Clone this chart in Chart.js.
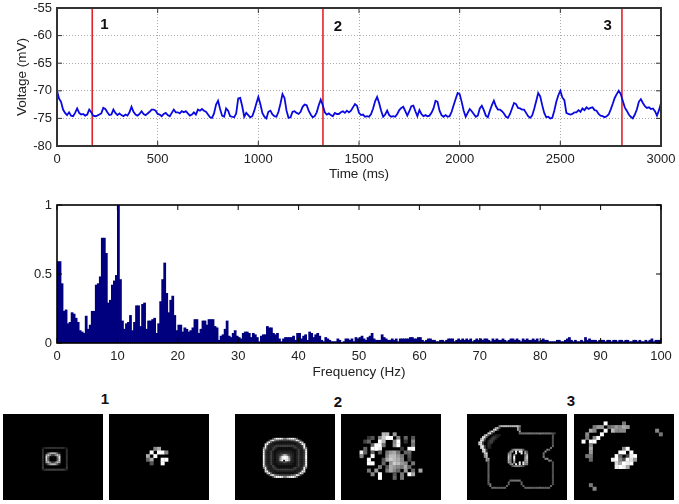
<!DOCTYPE html>
<html>
<head>
<meta charset="utf-8">
<title>Voltage trace, spectrum and image panels</title>
<script src="https://cdn.jsdelivr.net/npm/chart.js@4/dist/chart.umd.min.js"></script>
<style>
	html, body { margin: 0; background: #fff; }
	body { position: relative; width: 679px; height: 504px; overflow: hidden; }
	canvas { position: absolute; }
	.panel { background: #000; filter: blur(0.4px); }
	.num { position: absolute; font: bold 15px "Liberation Sans", Arial, sans-serif; color: #111; transform: translateX(-50%); }
</style>
</head>
<body>
<canvas id="trace" width="679" height="190" style="left:0;top:0"></canvas>
<canvas id="spectrum" width="679" height="190" style="left:0;top:190px"></canvas>

<div class="num" style="left:105px;top:390px">1</div>
<div class="num" style="left:338px;top:393px">2</div>
<div class="num" style="left:571px;top:392px">3</div>

<canvas id="p1a" class="panel" width="100" height="86" style="left:3px;top:414px"></canvas>
<canvas id="p1b" class="panel" width="100" height="86" style="left:109px;top:414px"></canvas>
<canvas id="p2a" class="panel" width="100" height="86" style="left:235px;top:414px"></canvas>
<canvas id="p2b" class="panel" width="100" height="86" style="left:341px;top:414px"></canvas>
<canvas id="p3a" class="panel" width="100" height="86" style="left:467px;top:414px"></canvas>
<canvas id="p3b" class="panel" width="100" height="86" style="left:574px;top:414px"></canvas>

<script>
// voltage trace, one value every 10 ms (mV)
const TRACE_STEP_MS = 10;
const traceMv = [
	-70.0,-71.4,-72.0,-73.4,-74.0,-74.4,-73.9,-74.5,-74.6,-74.0,
	-73.2,-74.0,-74.3,-74.2,-74.5,-74.3,-73.4,-73.9,-74.5,-74.6,
	-74.5,-74.3,-74.1,-73.1,-73.3,-73.9,-74.4,-74.3,-73.4,-74.0,
	-74.4,-74.1,-74.4,-74.6,-74.3,-74.5,-73.9,-72.9,-73.8,-74.3,
	-74.5,-74.2,-73.7,-74.2,-74.4,-74.1,-73.8,-73.4,-73.4,-73.6,
	-74.2,-74.3,-74.6,-74.2,-74.0,-74.4,-74.6,-74.0,-73.4,-73.9,
	-73.9,-74.1,-73.7,-73.9,-73.7,-74.1,-74.5,-74.3,-73.9,-74.3,
	-73.4,-73.6,-73.3,-73.6,-73.8,-74.3,-74.8,-74.9,-74.1,-72.5,
	-71.8,-73.3,-74.5,-74.7,-73.2,-73.6,-74.6,-74.7,-74.8,-74.1,
	-71.4,-71.3,-72.8,-74.7,-74.0,-74.4,-74.8,-74.6,-73.6,-72.3,
	-71.1,-72.4,-74.0,-74.7,-75.0,-73.8,-73.6,-74.3,-74.6,-74.7,
	-73.8,-72.3,-70.6,-71.3,-73.6,-74.9,-74.8,-73.8,-73.7,-74.0,
	-74.2,-73.8,-72.9,-72.5,-72.6,-73.6,-74.3,-74.8,-74.6,-73.9,
	-72.6,-71.6,-72.6,-73.9,-74.3,-74.1,-74.4,-74.6,-74.0,-74.2,
	-74.2,-73.9,-73.7,-74.0,-73.6,-73.9,-73.6,-73.0,-72.4,-72.7,
	-74.0,-74.4,-74.3,-74.7,-74.6,-74.7,-74.2,-73.2,-71.9,-71.1,
	-72.2,-73.6,-74.7,-74.3,-73.6,-74.4,-74.7,-74.6,-74.7,-74.2,
	-73.5,-73.1,-72.9,-73.7,-74.5,-73.7,-72.8,-72.7,-73.7,-74.6,
	-73.5,-74.2,-74.6,-74.4,-74.6,-74.5,-74.0,-73.2,-71.8,-72.0,
	-73.6,-74.4,-74.7,-74.4,-74.7,-74.6,-73.8,-72.6,-71.5,-70.4,
	-70.6,-72.0,-73.6,-74.7,-74.0,-73.3,-73.7,-74.2,-74.7,-74.5,
	-73.2,-72.7,-73.5,-74.5,-74.8,-73.6,-72.6,-71.8,-72.8,-73.4,
	-73.4,-73.7,-74.1,-74.7,-74.9,-74.2,-73.2,-72.2,-72.4,-73.1,
	-73.2,-73.4,-73.4,-74.0,-74.6,-74.9,-74.5,-73.3,-71.9,-70.4,
	-71.0,-72.6,-74.0,-74.8,-74.7,-75.0,-74.9,-73.6,-72.0,-70.8,
	-70.0,-71.2,-71.7,-74.0,-74.2,-74.3,-74.2,-73.9,-73.9,-73.5,
	-73.8,-73.2,-73.5,-73.0,-73.3,-73.1,-73.0,-73.5,-73.6,-74.2,
	-74.5,-74.6,-74.8,-74.6,-74.3,-73.4,-72.4,-71.3,-70.6,-70.0,
	-70.6,-71.8,-73.0,-73.6,-74.3,-74.7,-75.0,-74.3,-73.4,-72.0,
	-71.5,-72.2,-72.8,-73.1,-73.0,-73.3,-73.2,-73.7,-74.5,-73.5,
	-72.2
];

// red markers and their numbers
const markerTimes = [175, 1321, 2806];
const markerNames = ['1', '2', '3'];
const markerNameTimes = [235, 1395, 2735];
const markerNameMv = [-58, -58.4, -58.2];

const traceTicksX = [0, 500, 1000, 1500, 2000, 2500, 3000];
const traceTicksY = [-80, -75, -70, -65, -60, -55];

// amplitude spectrum, one bin every 1/3 Hz
const BINS_PER_HZ = 3;
const spectrumAmp = [
	.59,.59,.43,.23,.24,.14,.15,.22,.21,.18,
	.15,.09,.08,.07,.195,.10,.13,.23,.23,.42,
	.43,.48,.76,.76,.65,.29,.31,.42,.45,.49,
	1.0,.46,.16,.10,.14,.15,.20,.09,.15,.27,
	.27,.12,.28,.29,.10,.16,.16,.17,.18,.07,
	.14,.30,.46,.58,.36,.22,.31,.34,.20,.09,
	.13,.13,.08,.11,.10,.08,.09,.11,.17,.17,
	.07,.10,.16,.16,.13,.17,.17,.17,.12,.11,
	.02,.05,.06,.10,.16,.05,.04,.07,.09,.05,
	.04,.03,.07,.08,.08,.07,.04,.07,.06,.04,
	.01,.05,.06,.06,.12,.11,.11,.07,.06,.07,
	.03,.01,.03,.04,.04,.04,.04,.05,.02,.07,
	.07,.03,.05,.06,.02,.08,.07,.04,.06,.07,
	.05,.02,.01,.04,.03,.02,.01,.01,.01,.03,
	.02,.00,.01,.03,.03,.02,.03,.01,.04,.03,
	.04,.05,.03,.02,.04,.05,.07,.03,.02,.02,
	.02,.06,.04,.03,.02,.02,.03,.02,.03,.01,
	.03,.03,.03,.03,.03,.04,.04,.03,.03,.04,
	.04,.02,.01,.02,.03,.03,.02,.02,.01,.01,
	.02,.02,.01,.02,.03,.03,.03,.01,.02,.03,
	.02,.03,.02,.03,.02,.03,.01,.02,.03,.02,
	.03,.02,.03,.03,.02,.01,.03,.02,.03,.02,
	.02,.03,.02,.01,.02,.03,.03,.02,.03,.02,
	.01,.03,.02,.03,.02,.02,.03,.02,.03,.01,
	.02,.03,.02,.02,.01,.01,.01,.01,.02,.02,
	.01,.01,.02,.03,.04,.02,.01,.02,.01,.01,
	.02,.01,.04,.02,.03,.02,.02,.02,.01,.02,
	.02,.02,.01,.02,.02,.01,.02,.02,.01,.02,
	.02,.01,.02,.02,.01,.01,.02,.02,.01,.02,
	.01,.01,.02,.01,.02,.03,.01,.02,.02,.02
];
const spectrumTicksX = [0, 10, 20, 30, 40, 50, 60, 70, 80, 90, 100];
const spectrumTicksY = [0, 0.5, 1];

// image panels: [row, first column, hex grey levels ('.' = black)]
const PANEL_COARSE = { cols: 25, rows: 21.5, cell: 4 };
const PANEL_FINE = { cols: 50, rows: 43, cell: 2 };

const panel1Left = [
	[16,19,'12333333333321'],[17,19,'3............3'],[18,19,'3............3'],
	[19,19,'3.26abba62...3'],[20,19,'3.ac8448ca...3'],[21,19,'3.d7....7d...3'],
	[22,19,'3.d5....5d...3'],[23,19,'3.d7....7d...3'],[24,19,'3.ac8448ca...3'],
	[25,19,'3.26abba62...3'],[26,19,'3............3'],[27,19,'4............4'],
	[28,19,'23444444444432']
];
const panel1Right = [
	[8,11,'8a'],[9,10,'f.ff8'],[10,9,'a.f'],[11,9,'6a..ff'],[12,10,'5..f']
];
const panel2Left = [
	[11,13,'.....4afffd88ceffb5.....'],
	[12,13,'...4ce866444444668ec4...'],
	[13,13,'..bf6221111111111226fb..'],
	[14,13,'.df422122222222221224fd.'],
	[15,13,'.f42223444444444432224f.'],
	[16,13,'7e32234211111111243223e7'],
	[17,13,'d6322421111111111124226d'],
	[18,13,'f4224211222222221124224f'],
	[19,13,'f4224212233333322124224f'],
	[20,13,'f4224212347bb7432124224f'],
	[21,13,'f422421237effe732124224f'],
	[22,13,'f42242123aeffea32124224f'],
	[23,13,'f42242123af.ffa32124224f'],
	[24,13,'f4224212233553322124224f'],
	[25,13,'f4224211222222221124224f'],
	[26,13,'d6322421111111111124226d'],
	[27,13,'7e32234211111111243223e7'],
	[28,13,'.f42223444444444432224f.'],
	[29,13,'.df422122222222221224fd.'],
	[30,13,'..bf6221111111111226fb..'],
	[31,13,'...4ce866444444668ec4...'],
	[32,13,'.....4afffd88ceffb5.....']
];
const panel2Right = [
	[4,9,'.bb.9'],
	[5,6,'35.8cff.8.6.5'],
	[6,5,'46..fb..8f.3.8'],
	[7,6,'.6ff7..9f...7'],
	[8,5,'6.ffe.....3.ff'],
	[9,4,'e6.6.5.79a7.66'],
	[10,4,'8..f...8bb97.5'],
	[11,5,'.f...5acba8.4'],
	[12,6,'ff..6.9cb98.7'],
	[13,6,'...7.5a987a6'],
	[14,6,'7.9..7a86.9.6.a'],
	[15,6,'.8.f...5.7.fa'],
	[16,9,'f...6.7']
];
const panel3Left = [
	[4,15,'8bbbbbbbbbb8'],[5,13,'9c5'],[5,25,'a5'],[6,12,'cd5'],[6,25,'a5'],[7,10,'8e8'],[7,26,'a'],
	[8,9,'de4'],[8,26,'67777777777777777654'],[9,7,'9e6'],[10,6,'ce5'],[11,5,'9e7'],[12,5,'ed3'],
	[13,4,'de4'],[14,4,'ce5'],[15,5,'de4'],[16,5,'ce4'],[17,6,'de3'],[18,6,'ce3'],[19,7,'cd'],
	[20,7,'9c'],[21,7,'8b'],[22,8,'9a'],[23,8,'a8'],
	[9,12,'1222'],[10,11,'2332'],[11,10,'2442'],[12,9,'2442'],[13,9,'344'],[14,9,'33'],[15,9,'32'],[16,9,'22'],
	[9,44,'5'],[10,44,'5'],[11,44,'5'],[12,44,'5'],[13,44,'5'],[14,44,'5'],[15,44,'6'],[16,43,'7'],
	[17,41,'86'],[18,40,'9'],[19,39,'7'],[20,39,'6'],[21,39,'7'],[22,40,'89'],[23,42,'86'],
	[24,9,'6'],[25,9,'6'],[26,9,'6'],[27,9,'6'],[28,9,'6'],[29,9,'6'],[30,9,'6'],[31,9,'6'],
	[32,9,'6'],[33,9,'6'],[34,9,'6'],[35,9,'6'],[36,9,'57'],[37,10,'7'],[38,11,'66666666'],
	[37,19,'6'],[36,20,'6'],[35,20,'6'],[34,21,'777777'],[35,27,'6'],[36,27,'6'],[37,28,'6'],
	[38,29,'66666666666666'],[37,43,'6'],[36,44,'5'],
	[24,44,'5'],[25,44,'5'],[26,44,'5'],[27,44,'5'],[28,44,'5'],[29,44,'5'],[30,44,'5'],[31,44,'5'],
	[32,44,'5'],[33,44,'5'],[34,44,'5'],[35,44,'5'],
	[17,22,'69aa9a6'],[18,21,'8a.f.ff.95'],[19,20,'79..e..f.b7'],[20,20,'b9.a.....7b'],
	[21,20,'c8.f.....8c'],[22,20,'c8.f.....9c'],[23,20,'b7.c.....ab'],[24,20,'a9.a..f.f8a'],
	[25,21,'8a.f.f.f98'],[26,22,'5788875']
];
const panel3Right = [
	[1,7,'f'],[1,12,'7'],[2,4,'7'],[2,5,'99'],[2,8,'6798a9'],[3,3,'a8'],[3,7,'f'],[3,9,'b888'],[3,21,'8'],
	[4,2,'8'],[4,6,'f'],[4,22,'7'],[5,2,'7'],[5,4,'8f'],[6,1,'f'],[6,3,'ff'],
	[7,3,'8'],[8,3,'a'],[9,3,'9'],[10,2,'77'],[11,3,'6'],
	[18,3,'7'],[19,4,'8'],
	[8,12,'8f'],[9,11,'ff.f'],[10,10,'f6.4ef'],[11,9,'ef85fd9'],[12,10,'dafef'],[13,10,'efea']
];

const panels = [
	['p1a', panel1Left, PANEL_FINE],
	['p1b', panel1Right, PANEL_COARSE],
	['p2a', panel2Left, PANEL_FINE],
	['p2b', panel2Right, PANEL_COARSE],
	['p3a', panel3Left, PANEL_FINE],
	['p3b', panel3Right, PANEL_COARSE]
];

const FONT_FAMILY = '"Liberation Sans", Arial, sans-serif';
Chart.defaults.font.family = FONT_FAMILY;
Chart.defaults.font.size = 13;
Chart.defaults.color = '#222';
Chart.defaults.animation = false;
Chart.defaults.events = [];

// frame round the plot and short inward ticks on all four sides
const frameTicks = {
	id: 'frameTicks',
	afterDraw(chart, _args, opts) {
		const { ctx, chartArea: a, scales } = chart;
		ctx.save();
		ctx.strokeStyle = opts.color;
		ctx.lineWidth = 1;
		ctx.beginPath();
		scales.x.ticks.forEach((t) => {
			const px = scales.x.getPixelForValue(t.value);
			ctx.moveTo(px, a.top);
			ctx.lineTo(px, a.top + 5);
			ctx.moveTo(px, a.bottom);
			ctx.lineTo(px, a.bottom - 5);
		});
		scales.y.ticks.forEach((t) => {
			const py = scales.y.getPixelForValue(t.value);
			ctx.moveTo(a.left, py);
			ctx.lineTo(a.left + 5, py);
			ctx.moveTo(a.right, py);
			ctx.lineTo(a.right - 5, py);
		});
		ctx.stroke();
		ctx.lineWidth = opts.width;
		ctx.strokeRect(a.left, a.top, a.right - a.left, a.bottom - a.top);
		ctx.restore();
	}
};

// the bold 1 / 2 / 3 beside the red markers
const markerText = {
	id: 'markerText',
	afterDatasetsDraw(chart) {
		const { ctx, scales } = chart;
		ctx.save();
		ctx.font = 'bold 15px ' + FONT_FAMILY;
		ctx.fillStyle = '#111';
		ctx.textAlign = 'center';
		ctx.textBaseline = 'middle';
		markerNames.forEach((name, i) => {
			ctx.fillText(name, scales.x.getPixelForValue(markerNameTimes[i]), scales.y.getPixelForValue(markerNameMv[i]));
		});
		ctx.restore();
	}
};

const fixedTicks = (values) => (scale) => {
	scale.ticks = values.map((value) => ({ value }));
};

const axisX = (min, max, ticks, title, height) => ({
	type: 'linear',
	min,
	max,
	offset: false,
	grid: { display: false, offset: false, drawTicks: false },
	border: { display: false },
	afterBuildTicks: fixedTicks(ticks),
	afterFit(scale) {
		scale.height = height;
		scale.paddingLeft = 0;
		scale.paddingRight = 0;
	},
	ticks: { maxRotation: 0, autoSkip: false, padding: 6, color: '#222', callback: (v) => String(v) },
	title: { display: true, text: title, font: { size: 13.5 }, padding: { top: 1, bottom: 0 }, color: '#222' }
});

const axisY = (min, max, ticks, width) => ({
	type: 'linear',
	min,
	max,
	grid: { display: false, drawTicks: false },
	border: { display: false },
	afterBuildTicks: fixedTicks(ticks),
	afterFit(scale) {
		scale.width = width;
		scale.paddingTop = 0;
		scale.paddingBottom = 0;
	},
	ticks: { autoSkip: false, padding: 5, color: '#222', callback: (v) => String(v) }
});

// voltage trace
const traceY = axisY(-80, -55, traceTicksY, 43);
traceY.title = { display: true, text: 'Voltage (mV)', font: { size: 13.5 }, padding: { top: 0, bottom: 2 }, color: '#222' };
const traceX = axisX(0, 3000, traceTicksX, 'Time (ms)', 36);
const dottedGrid = { display: true, color: '#aaa', lineWidth: 1, drawTicks: false };
traceX.grid = dottedGrid;
traceX.border = { display: false, dash: [1, 2] };
traceY.grid = dottedGrid;
traceY.border = { display: false, dash: [1, 2] };

new Chart(document.getElementById('trace'), {
	type: 'scatter',
	data: {
		datasets: [
			{
				data: traceMv.map((y, i) => ({ x: i * TRACE_STEP_MS, y })),
				showLine: true,
				borderColor: '#0a0ae0',
				borderWidth: 1.8,
				pointRadius: 0
			},
			...markerTimes.map((t) => ({
				data: [{ x: t, y: -80 }, { x: t, y: -55 }],
				showLine: true,
				borderColor: '#e0242c',
				borderWidth: 1.6,
				pointRadius: 0
			}))
		]
	},
	options: {
		responsive: false,
		layout: { padding: { top: 8, right: 18, bottom: 8, left: 14 } },
		scales: { x: traceX, y: traceY },
		plugins: {
			legend: { display: false },
			tooltip: { enabled: false },
			frameTicks: { color: '#333', width: 2 }
		}
	},
	plugins: [markerText, frameTicks]
});

// spectrum
new Chart(document.getElementById('spectrum'), {
	type: 'bar',
	data: {
		datasets: [{
			data: spectrumAmp.map((y, i) => ({ x: (i + 0.5) / BINS_PER_HZ, y })),
			backgroundColor: '#00007f',
			barThickness: 2.1,
			borderWidth: 0
		}]
	},
	options: {
		responsive: false,
		layout: { padding: { top: 15, right: 18, bottom: 0, left: 0 } },
		scales: {
			x: axisX(0, 100, spectrumTicksX, 'Frequency (Hz)', 37),
			y: axisY(0, 1, spectrumTicksY, 57)
		},
		plugins: {
			legend: { display: false },
			tooltip: { enabled: false },
			frameTicks: { color: '#000', width: 1.6 }
		}
	},
	plugins: [frameTicks]
});

// image panels, each cell is one square point on the panel's own grid
panels.forEach(([id, runs, grid]) => {
	const cells = [];
	const colors = [];
	runs.forEach(([row, col, levels]) => {
		[...levels].forEach((ch, k) => {
			if (ch === '.') return;
			const g = parseInt(ch, 16) * 17;
			cells.push({ x: col + k + 0.5, y: row + 0.5 });
			colors.push(`rgb(${g},${g},${g})`);
		});
	});
	new Chart(document.getElementById(id), {
		type: 'scatter',
		data: {
			datasets: [{
				data: cells,
				pointStyle: 'rect',
				pointRadius: grid.cell * Math.SQRT1_2,
				pointBorderWidth: 0,
				pointBackgroundColor: colors
			}]
		},
		options: {
			responsive: false,
			layout: { padding: 0 },
			scales: {
				x: { type: 'linear', display: false, min: 0, max: grid.cols },
				y: { type: 'linear', display: false, min: 0, max: grid.rows, reverse: true }
			},
			plugins: { legend: { display: false }, tooltip: { enabled: false } }
		}
	});
});
</script>
</body>
</html>
